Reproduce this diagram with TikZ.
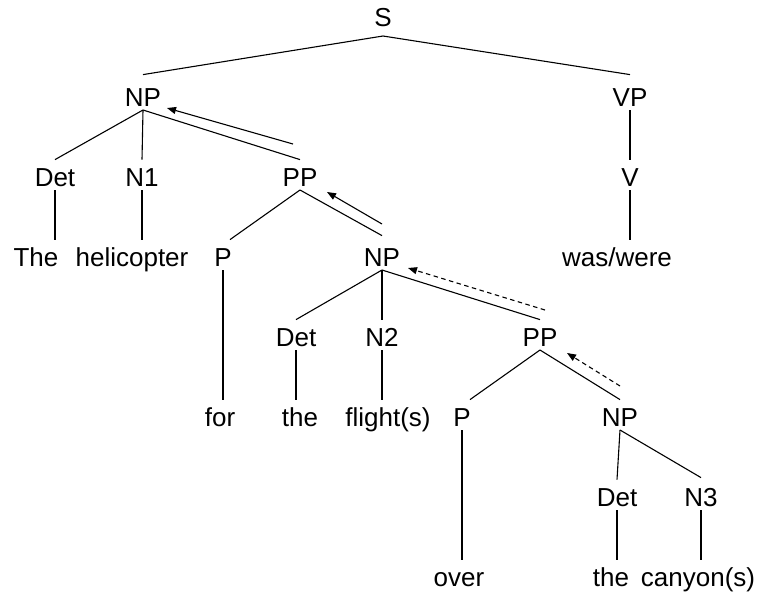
\documentclass[tikz,border=0pt]{standalone}
\usepackage{fontspec}
\setmainfont{Liberation Sans}
\usetikzlibrary{arrows.meta,calc}

\tikzset{
  lab/.style={inner sep=0pt, anchor=south, text height=19pt, text depth=0pt,
              font=\fontsize{26}{30}\selectfont},
  branch/.style={line width=1.1pt},
  move/.style={line width=1.1pt, -{Triangle[length=9pt,width=7pt]}},
  movedash/.style={move, dash pattern=on 4.5pt off 3.5pt}
}

\begin{document}
\begin{tikzpicture}[x=1pt,y=-1pt]
\useasboundingbox (0,0) rectangle (771,595);

% category and word labels (positioned by baseline)
\node[lab] (s)     at (383,27)  {S};
\node[lab] (npa)   at (143,107) {NP};
\node[lab] (vp)    at (630,107) {VP};
\node[lab] (deta)  at (55,187)  {Det};
\node[lab] (na)    at (142,187) {N1};
\node[lab] (ppa)   at (300,187) {PP};
\node[lab] (v)     at (630,187) {V};
\node[lab] (wthe)  at (36,267)  {The};
\node[lab] (wheli) at (132,267) {helicopter};
\node[lab] (pa)    at (223,267) {P};
\node[lab] (npb)   at (382,267) {NP};
\node[lab] (wwas)  at (617,267) {was/were};
\node[lab] (detb)  at (296,347) {Det};
\node[lab] (nb)    at (382,347) {N2};
\node[lab] (ppb)   at (540,347) {PP};
\node[lab] (wfor)  at (220,427) {for};
\node[lab] (wthea) at (300,427) {the};
\node[lab] (wfli)  at (388,427) {flight(s)};
\node[lab] (pb)    at (462,427) {P};
\node[lab] (npc)   at (620,427) {NP};
\node[lab] (detc)  at (617,507) {Det};
\node[lab] (nc)    at (701,507) {N3};
\node[lab] (wover) at (459,587) {over};
\node[lab] (wtheb) at (611,587) {the};
\node[lab] (wcan)  at (698,587) {canyon(s)};

% tree branches
\draw[branch] ([yshift=-9pt]s.south) -- ([yshift=13pt]npa.north);
\draw[branch] ([yshift=-9pt]s.south) -- ([yshift=13pt]vp.north);

\draw[branch] ([yshift=-3pt]npa.south) -- ([yshift=8pt]deta.north);
\draw[branch] ([yshift=-3pt]npa.south) -- ([yshift=8pt]na.north);
\draw[branch] ([yshift=-3pt]npa.south) -- ([yshift=8pt]ppa.north);
\draw[branch] ([yshift=-3pt]vp.south)  -- ([yshift=8pt]v.north);

\draw[branch] ([yshift=-3pt]deta.south) -- ($(wthe.north -| deta.south)+(0,-8)$);
\draw[branch] ([yshift=-3pt]na.south)   -- ($(wheli.north -| na.south)+(0,-8)$);
\draw[branch] ([yshift=-3pt]v.south)    -- ($(wwas.north -| v.south)+(0,-8)$);
\draw[branch] ([yshift=-3pt]ppa.south)  -- ([xshift=7pt,yshift=8pt]pa.north);
\draw[branch] ([yshift=-3pt]ppa.south)  -- ([yshift=12pt]npb.north);

\draw[branch] ([yshift=-3pt]pa.south)  -- ($(wfor.north -| pa.south)+(0,-8)$);
\draw[branch] ([yshift=-3pt]npb.south) -- ([yshift=8pt]detb.north);
\draw[branch] ([yshift=-3pt]npb.south) -- ([yshift=8pt]nb.north);
\draw[branch] ([yshift=-3pt]npb.south) -- ([yshift=8pt]ppb.north);

\draw[branch] ([yshift=-3pt]detb.south) -- ($(wthea.north -| detb.south)+(0,-8)$);
\draw[branch] ([yshift=-3pt]nb.south)   -- ($(wfli.north -| nb.south)+(0,-8)$);
\draw[branch] ([yshift=-3pt]ppb.south)  -- ([xshift=8pt,yshift=8pt]pb.north);
\draw[branch] ([yshift=-3pt]ppb.south)  -- ([yshift=8pt]npc.north);

\draw[branch] ([yshift=-3pt]pb.south)  -- ($(wover.north -| pb.south)+(0,-8)$);
\draw[branch] ([yshift=-3pt]npc.south) -- ([yshift=8pt]detc.north);
\draw[branch] ([yshift=-3pt]npc.south) -- ([yshift=10pt]nc.north);

\draw[branch] ([yshift=-3pt]detc.south) -- ($(wtheb.north -| detc.south)+(0,-8)$);
\draw[branch] ([yshift=-3pt]nc.south)   -- ($(wcan.north -| nc.south)+(0,-8)$);

% movement arrows running alongside the branches
\coordinate (m1s) at (293,144); \coordinate (m1e) at (167,108);
\coordinate (m2s) at (382,224); \coordinate (m2e) at (327,192);
\coordinate (m3s) at (545,310); \coordinate (m3e) at (408,268);
\coordinate (m4s) at (620,386); \coordinate (m4e) at (567,353);

\draw[move] (m1s) -- (m1e);
\draw[move] (m2s) -- (m2e);
\draw[movedash] (m3s) -- (m3e);
\draw[movedash] (m4s) -- (m4e);
\end{tikzpicture}
\end{document}
